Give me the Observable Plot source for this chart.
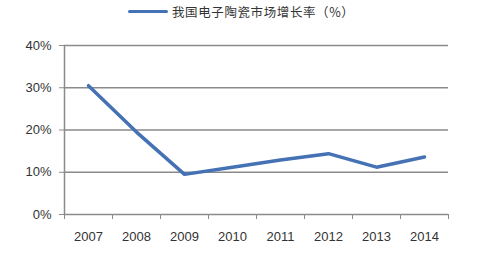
<!DOCTYPE html>
<html><head><meta charset="utf-8">
<script src="https://cdn.jsdelivr.net/npm/d3@7"></script>
<script src="https://cdn.jsdelivr.net/npm/@observablehq/plot@0.6"></script>
<style>
html,body{margin:0;padding:0;background:#fff;}
#wrap{width:486px;height:257px;position:relative;overflow:hidden;}
#legend{height:20px;position:relative;font-family:"Noto Sans CJK SC",sans-serif;font-size:12.5px;color:#333;}
#legend .sw{position:absolute;left:128px;top:10px;width:40px;height:3px;background:#4472b4;border-radius:2px;}
#legend .tx{position:absolute;left:172px;top:2px;letter-spacing:0.6px;white-space:nowrap;}
</style></head>
<body><div id="wrap"><div id="legend"><div class="sw"></div><div class="tx">我国电子陶瓷市场增长率（%）</div></div><div id="chart"></div></div>
<script>
const seriesName = "我国电子陶瓷市场增长率（%）";
const years = [2007, 2008, 2009, 2010, 2011, 2012, 2013, 2014];
const growth = [30.5, 19.5, 9.5, 11.2, 12.9, 14.4, 11.2, 13.6];
const yTicks = [0, 10, 20, 30, 40];

const data = years.map((y, i) => ({year: y, value: growth[i]}));
const boundaries = [years[0] - 0.5, ...years.map(y => y + 0.5)];

const chart = Plot.plot({
  width: 486,
  height: 237,
  marginTop: 25,
  marginBottom: 43,
  marginLeft: 64,
  marginRight: 38,
  style: {fontFamily: "'Liberation Sans', Arial, sans-serif", fontSize: "13px", color: "#333", background: "#fff"},
  x: {type: "linear", domain: [years[0] - 0.5, years[years.length - 1] + 0.5]},
  y: {domain: [0, 40]},
  marks: [
    Plot.ruleY(yTicks.filter(d => d > 0), {stroke: "#8a8a8a", strokeWidth: 1.5}),
    Plot.axisY({ticks: yTicks, tickSize: 5, tickPadding: 8, tickFormat: d => d + "%", stroke: "#8a8a8a", strokeOpacity: 1, fill: "#333", label: null}),
    Plot.ruleX([boundaries[0]], {stroke: "#8a8a8a", strokeWidth: 1.5}),
    Plot.ruleY([0], {stroke: "#8a8a8a", strokeWidth: 1.5}),
    Plot.axisX({ticks: boundaries, tickSize: 5, tickFormat: () => "", stroke: "#8a8a8a", strokeOpacity: 1, label: null}),
    Plot.axisX({ticks: years, tickSize: 0, tickPadding: 17, tickFormat: d => String(d), fill: "#333", label: null}),
    Plot.line(data, {x: "year", y: "value", stroke: "#4472b4", strokeWidth: 3.5, strokeLinejoin: "round", strokeLinecap: "round"})
  ]
});
document.getElementById("chart").appendChild(chart);
</script></body></html>
